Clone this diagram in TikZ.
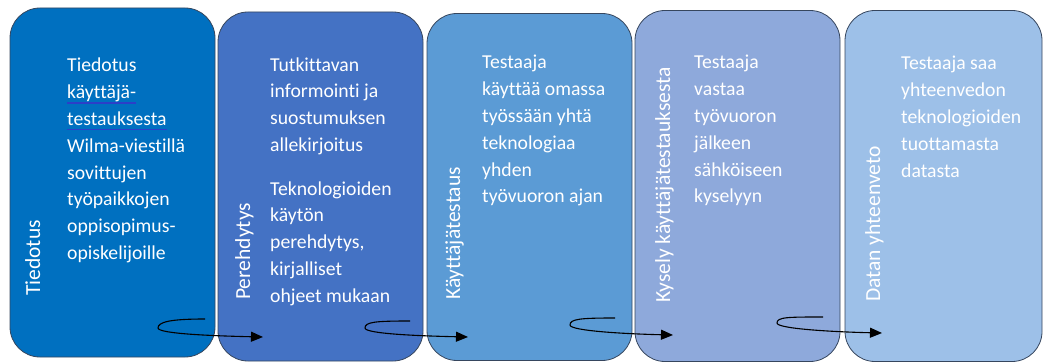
\documentclass[tikz,border=0pt]{standalone}
\usepackage{fontspec}
\setmainfont[Ligatures=NoCommon]{Carlito}
\usepackage{tikz}
\usetikzlibrary{positioning, arrows.meta, calc}
\usepackage{xcolor}

\definecolor{tiedcol}{HTML}{0070C0}
\definecolor{perecol}{HTML}{4472C4}
\definecolor{testcol}{HTML}{5B9BD5}
\definecolor{kyscol}{HTML}{8EA9DB}
\definecolor{datacol}{HTML}{9DC0E8}
\definecolor{edgecol}{HTML}{36465E}
\definecolor{linkblue}{HTML}{2B3FC8}

\newlength\ullen
\newcommand{\linkul}[1]{\settowidth{\ullen}{#1}\rlap{\textcolor{linkblue}{\rule[-4.8pt]{\ullen}{1.3pt}}}#1}

\tikzset{
  phase/.style={draw=edgecol, line width=0.8pt, rounded corners=30pt, minimum width=205pt, minimum height=349pt, inner sep=0pt},
  phaselabel/.style={rotate=90, anchor=base west, inner sep=0pt, text=white, font=\fontsize{21.5}{26}\selectfont},
  % anchored at the baseline of the last line
  phasetext/.style={anchor=base west, align=left, inner sep=0pt, text=white, font=\fontsize{19.7}{26.8}\selectfont},
  curl/.style={line width=1.1pt, -{Triangle[length=12pt,width=10pt]}}
}

\begin{document}
\begin{tikzpicture}[x=1pt, y=-1pt]
\useasboundingbox (0,0) rectangle (1043,363);

% Phases
\node[phase, fill=tiedcol] (tied) at (112.5,182.5) {};
\node[phase, fill=perecol] (pere) at (320.5,186.5) {};
\node[phase, fill=testcol, minimum height=347pt] (kayt) at (529.5,187) {};
\node[phase, fill=kyscol, minimum height=351pt] (kysely) at (737.5,186) {};
\node[phase, fill=datacol, minimum width=197pt, minimum height=351pt] (datan) at (943.5,186) {};

% Phase names
\node[phaselabel] (tiedname) at (40,296) {Tiedotus};
\node[phaselabel] (perename) at (250,300) {Perehdytys};
\node[phaselabel] (kaytname) at (460,300) {Käyttäjätestaus};
\node[phaselabel] (kysname) at (670,303) {Kysely käyttäjätestauksesta};
\node[phaselabel] (dataname) at (880,302) {Datan yhteenveto};

% Descriptions
\node[phasetext] (tiedtext) at (67,259.6) {Tiedotus\\ \linkul{käyttäjä-}\\ \linkul{testauksesta}\\ Wilma-viestillä\\ sovittujen\\ työpaikkojen\\ oppisopimus-\\ opiskelijoille};
\node[phasetext] (peretext) at (270,302.2) {Tutkittavan\\ informointi ja\\ suostumuksen\\ allekirjoitus\\[16.8pt] Teknologioiden\\ käytön\\ perehdytys,\\ kirjalliset\\ ohjeet mukaan};
\node[phasetext] (kayttext) at (482,203) {Testaaja\\ käyttää omassa\\ työssään yhtä\\ teknologiaa\\ yhden\\ työvuoron ajan};
\node[phasetext] (kystext) at (694,203) {Testaaja\\ vastaa\\ työvuoron\\ jälkeen\\ sähköiseen\\ kyselyyn};
\node[phasetext] (datatext) at (901,177.2) {Testaaja saa\\ yhteenvedon\\ teknologioiden\\ tuottamasta\\ datasta};

% Curl arrows
\coordinate (s1) at (205,319); \coordinate (l1) at (158,328); \coordinate (t1) at (263,337);
\coordinate (s2) at (410,321); \coordinate (l2) at (365,328); \coordinate (t2) at (468,337);
\coordinate (s3) at (615,318); \coordinate (l3) at (570,325); \coordinate (t3) at (673,335);
\coordinate (s4) at (823,317); \coordinate (l4) at (777,323); \coordinate (t4) at (882,333);
\foreach \i in {1,2,3,4}
  \draw[curl] (s\i) .. controls +(-35,0) and +(0,-6) .. (l\i) .. controls +(0,6) and +(-45,-1) .. (t\i);
\end{tikzpicture}
\end{document}
